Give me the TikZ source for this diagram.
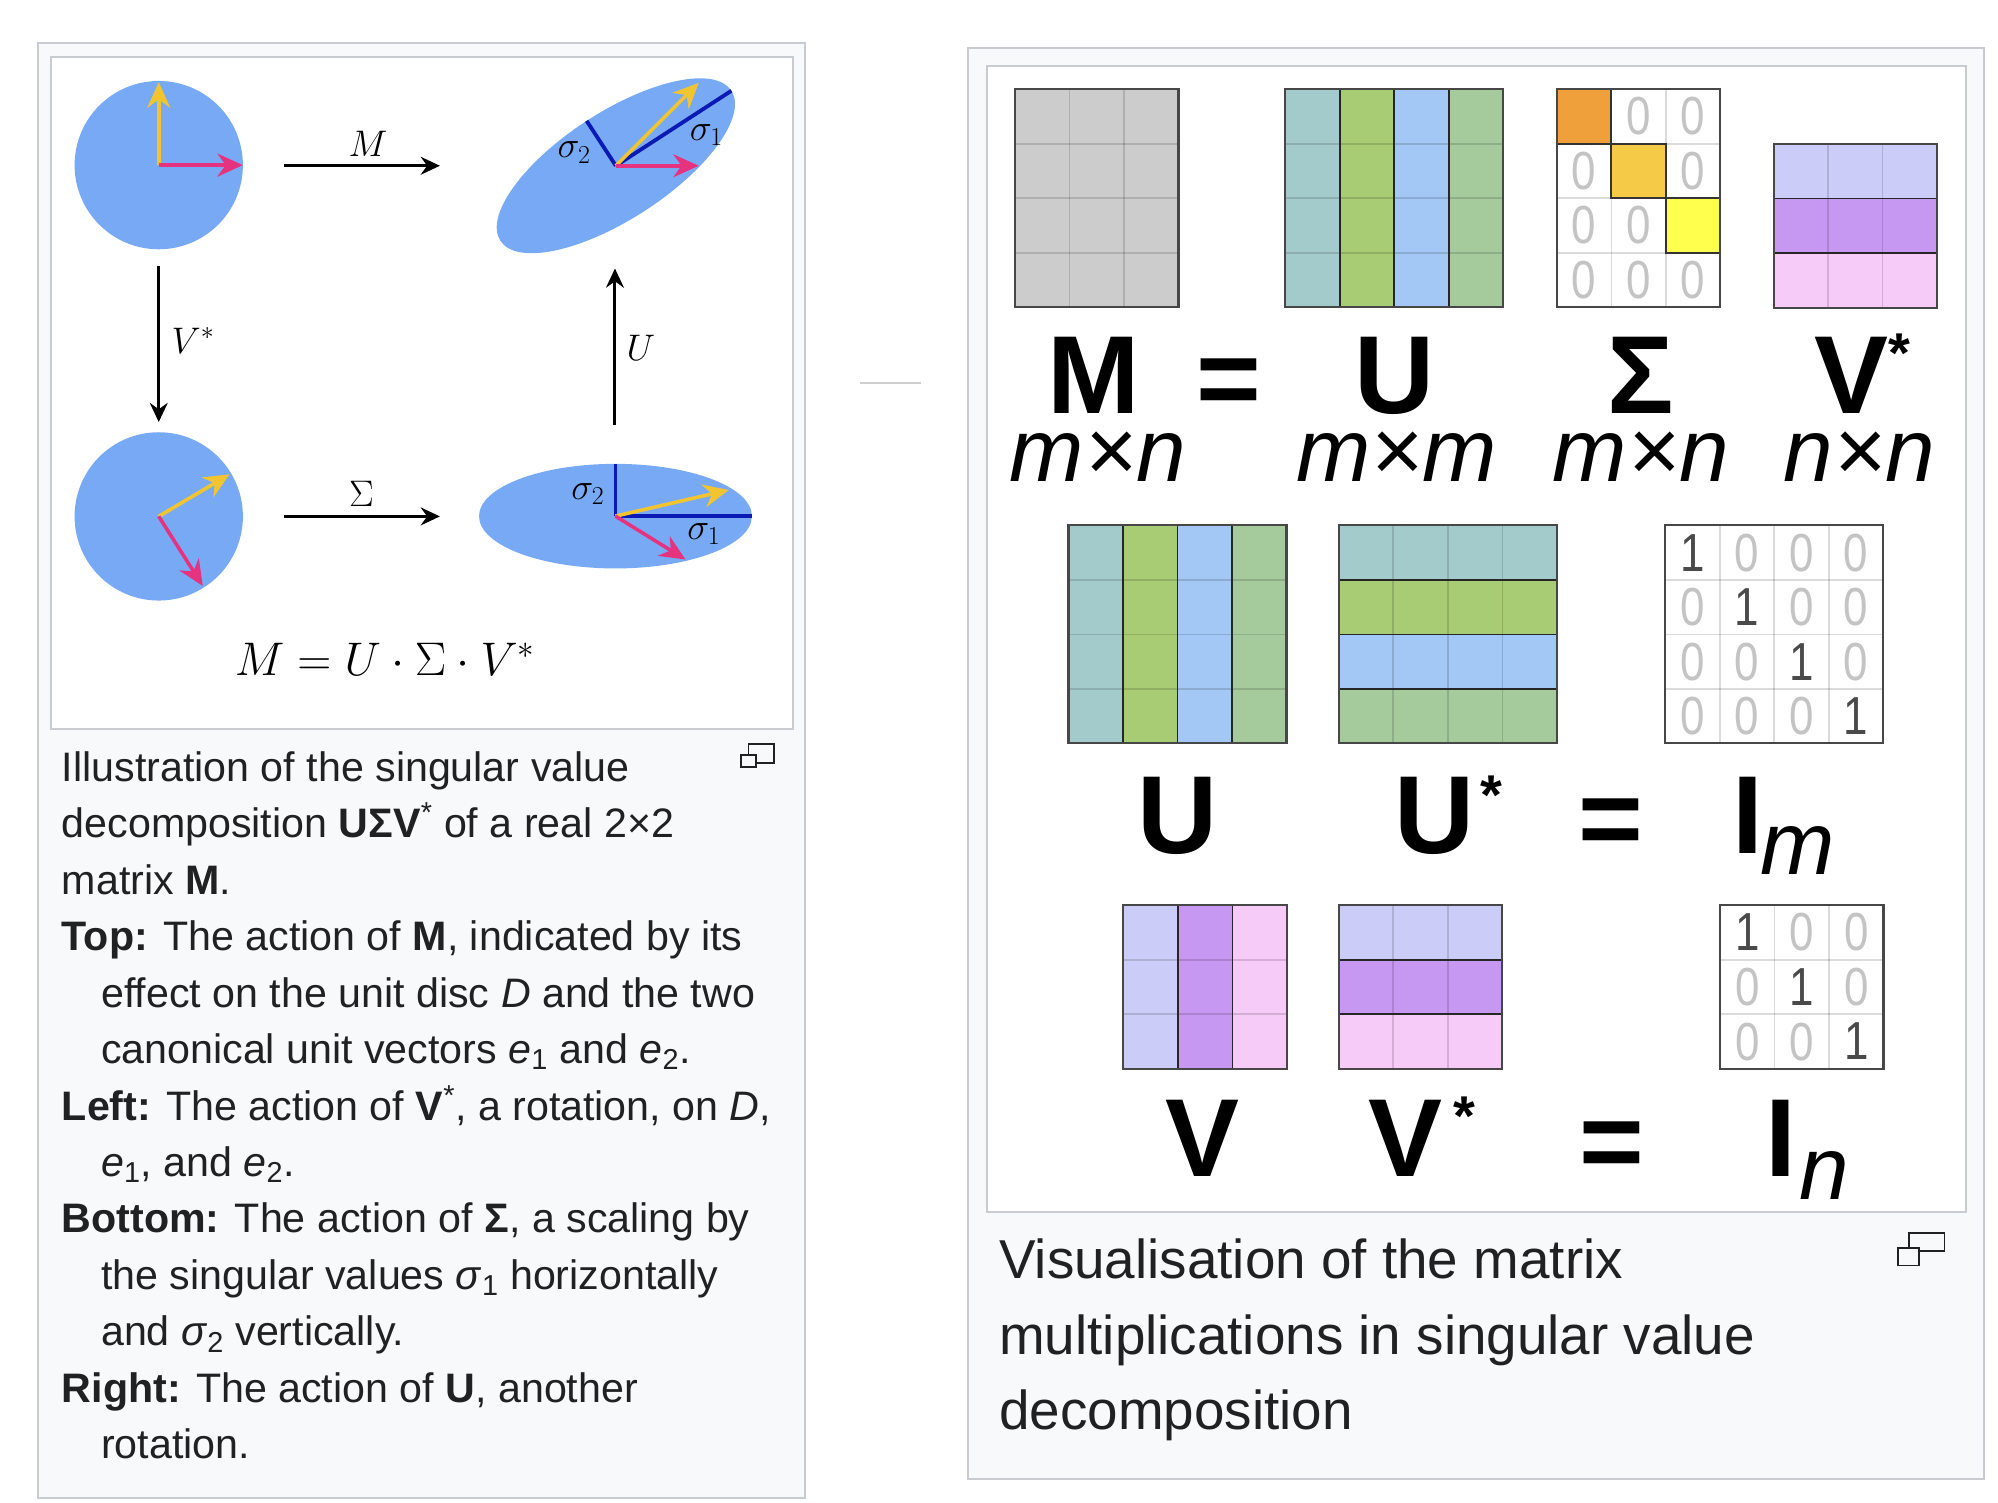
\RequirePackage{fix-cm}
\documentclass[tikz,border=0pt]{standalone}
\usepackage{graphicx}
\usepackage[no-math]{fontspec}
\setmainfont{Liberation Sans}
\usetikzlibrary{arrows.meta,shapes.geometric}

\definecolor{panelgray}{HTML}{C8CCD1}
\definecolor{capbg}{HTML}{F8F9FA}
\definecolor{captext}{HTML}{202122}
\definecolor{discblue}{HTML}{78A9F5}
\definecolor{vecyellow}{HTML}{F2C530}
\definecolor{vecpink}{HTML}{E6337F}
\definecolor{sigblue}{HTML}{0B1AB5}
\definecolor{mgray}{HTML}{CCCCCC}
\definecolor{cteal}{HTML}{A4CBCB}
\definecolor{cgreen}{HTML}{A8CC74}
\definecolor{cblue}{HTML}{A3C8F6}
\definecolor{csage}{HTML}{A5CB9D}
\definecolor{clav}{HTML}{CCCCF8}
\definecolor{cpurp}{HTML}{C698F2}
\definecolor{cpink}{HTML}{F7CBF8}
\definecolor{corange}{HTML}{F0A03A}
\definecolor{cgold}{HTML}{F5CA46}
\definecolor{cyel}{HTML}{FFFF4D}
\definecolor{zerogray}{HTML}{C4C4C4}
\definecolor{onegray}{HTML}{4A4A4A}

\newcommand{\cs}{42.75}
\newcommand{\narrowdigit}[1]{\scalebox{0.82}[1]{#1}}
\newcommand{\svdfaint}[4]{%
  \foreach \k in {1,...,#3}{\draw[faintline] ({#1+\k*\cs},#2) -- ++(0,{#4*\cs});}%
  \foreach \k in {1,...,#4}{\draw[faintline] (#1,{#2+\k*\cs}) -- ++({#3*\cs},0);}%
}
\newcommand{\svdvsep}[4]{%
  \foreach \k in {1,...,#3}{\draw[sepline] ({#1+\k*\cs},#2) -- ++(0,{#4*\cs});}%
}
\newcommand{\svdhsep}[4]{%
  \foreach \k in {1,...,#4}{\draw[sepline] (#1,{#2+\k*\cs}) -- ++({#3*\cs},0);}%
}
\newcommand{\svdbox}[4]{\draw[mborder] (#1,#2) rectangle ++({#3*\cs},{#4*\cs});}
\newcommand{\svdcolfill}[4]{%
  \foreach \c [count=\i from 0] in {#4}{\fill[\c] ({#1+\i*\cs},#2) rectangle ++(\cs,{#3*\cs});}%
}
\newcommand{\svdrowfill}[4]{%
  \foreach \c [count=\i from 0] in {#4}{\fill[\c] (#1,{#2+\i*\cs}) rectangle ++({#3*\cs},\cs);}%
}
\newcommand{\svdident}[4]{% x y n name
  \foreach \r in {1,...,#3}{\foreach \q in {1,...,#3}{%
    \ifnum\r=\q\relax
      \node[onedigit] (#4-\r-\q) at ({#1+(\q-0.5)*\cs},{#2+(\r-0.5)*\cs}) {\narrowdigit{1}};
    \else
      \node[zerodigit] (#4-\r-\q) at ({#1+(\q-0.5)*\cs},{#2+(\r-0.5)*\cs}) {\narrowdigit{0}};
    \fi}}%
}

\begin{document}
\begin{tikzpicture}[x=1pt,y=-1pt,
  panel/.style={draw=panelgray,line width=1.5pt},
  disc/.style={circle,fill=discblue,inner sep=0pt,minimum size=132pt},
  ell/.style={ellipse,fill=discblue,inner sep=0pt},
  vecy/.style={draw=vecyellow,line width=2.8pt,-{Stealth[length=20pt,width=18pt,inset=6.5pt]}},
  vecp/.style={draw=vecpink,line width=2.8pt,-{Stealth[length=20pt,width=18pt,inset=6.5pt]}},
  sigline/.style={draw=sigblue,line width=3pt},
  maparrow/.style={draw=black,line width=2.3pt,-{Stealth[length=15pt,width=14pt,inset=5pt]}},
  mlab/.style={inner sep=0pt,font=\fontsize{29}{32}\selectfont},
  formula/.style={inner sep=0pt,font=\fontsize{37}{40}\selectfont},
  capline/.style={anchor=base west,inner sep=0pt,text=captext,font=\fontsize{32.3}{40}\selectfont},
  rcap/.style={anchor=base west,inner sep=0pt,text=captext,font=\fontsize{43}{50}\selectfont},
  icon/.style={draw=captext,line width=1.4pt},
  faintline/.style={draw=black,opacity=0.14,line width=1.3pt},
  sepline/.style={draw=black!85,line width=1.3pt},
  mborder/.style={draw=black!72,line width=1.7pt},
  diagbox/.style={draw=black!80,line width=1.5pt},
  zerodigit/.style={inner sep=0pt,text=zerogray,font=\fontsize{42}{42}\selectfont},
  onedigit/.style={inner sep=0pt,text=onegray,font=\fontsize{42}{42}\selectfont},
  biglab/.style={anchor=base,inner sep=0pt,text height=62pt,text depth=0pt,font=\fontsize{87}{90}\selectfont\bfseries},
  eqlab/.style={inner sep=0pt,font=\fontsize{87}{90}\selectfont\bfseries},
  starlab/.style={anchor=north,inner sep=0pt,font=\fontsize{44}{44}\selectfont\bfseries},
  dimlab/.style={anchor=base,inner sep=0pt,text height=36pt,text depth=0pt,font=\fontsize{70}{72}\selectfont\itshape}
]
\useasboundingbox (0,0) rectangle (1567,1178);
\fill[white] (0,0) rectangle (1567,1178);

% ================= left panel =================
\draw[panel,fill=capbg] (29.6,34) rectangle (631.4,1175);
\draw[panel,fill=white] (40,45) rectangle (621.7,571.5);

\node[disc] (d1) at (124.5,129.5) {};
\node[disc] (d2) at (124.5,405) {};
\node[ell,minimum width=216pt,minimum height=84pt,rotate=33] (e1) at (483,130) {};
\node[ell,minimum width=214pt,minimum height=82pt] (e2) at (482.7,404.8) {};

% coordinates of vector tips
\coordinate (d1y) at (124.5,64.5);
\coordinate (d1p) at (190.5,129.5);
\coordinate (e1s1) at (573.6,71.2);
\coordinate (e1s2) at (460.1,94.8);
\coordinate (e1y) at (548,65);
\coordinate (e1p) at (548,130);
\coordinate (d2y) at (180,372);
\coordinate (d2p) at (159,459.5);
\coordinate (e2s2) at (482.7,364);
\coordinate (e2s1) at (589.7,404.8);
\coordinate (e2y) at (571.6,384.3);
\coordinate (e2p) at (537.6,438.8);

\draw[vecy] (d1.center) -- (d1y);
\draw[vecp] (d1.center) -- (d1p);

\draw[sigline] (e1.center) -- (e1s1);
\draw[sigline] (e1.center) -- (e1s2);
\draw[vecy] (e1.center) -- (e1y);
\draw[vecp] (e1.center) -- (e1p);

\draw[vecy] (d2.center) -- (d2y);
\draw[vecp] (d2.center) -- (d2p);

\draw[sigline] (e2.center) -- (e2s2);
\draw[sigline] (e2.center) -- (e2s1);
\draw[vecy] (e2.center) -- (e2y);
\draw[vecp] (e2.center) -- (e2p);

% map arrows
\coordinate (mA) at (223,130);
\coordinate (mB) at (345,130);
\coordinate (vA) at (124.5,209);
\coordinate (vB) at (124.5,331);
\coordinate (uA) at (482.3,333);
\coordinate (uB) at (482.3,210.6);
\coordinate (sA) at (223,405);
\coordinate (sB) at (345,405);
\draw[maparrow] (mA) -- (mB);
\draw[maparrow] (vA) -- (vB);
\draw[maparrow] (uA) -- (uB);
\draw[maparrow] (sA) -- (sB);

\node[mlab] (lM) at (288.7,112.8) {$M$};
\node[mlab] (lV) at (151.4,267) {$V^*$};
\node[mlab] (lU) at (502.7,272.6) {$U$};
\node[mlab] (lS) at (283.4,387.3) {$\Sigma$};
\node[mlab] (s2a) at (450.3,119.6) {$\sigma_2$};
\node[mlab] (s1a) at (554,106) {$\sigma_1$};
\node[mlab] (s2b) at (461,387.3) {$\sigma_2$};
\node[mlab] (s1b) at (552,419) {$\sigma_1$};
\node[formula] (form) at (301.8,517) {$M = U\cdot\Sigma\cdot V^*$};

% caption left
\node[capline] (c1) at (48.3,612.8) {Illustration of the singular value};
\node[capline] (c2) at (48.3,657.1) {decomposition \textbf{UΣV}\textsuperscript{*} of a real 2×2};
\node[capline] (c3) at (48.3,701.3) {matrix \textbf{M}.};
\node[capline] (c4) at (48.3,745.6) {\textbf{Top:} The action of \textbf{M}, indicated by its};
\node[capline] (c5) at (79.1,789.9) {effect on the unit disc \textit{D} and the two};
\node[capline] (c6) at (79.1,834.2) {canonical unit vectors \textit{e}\textsubscript{1} and \textit{e}\textsubscript{2}.};
\node[capline] (c7) at (48.3,878.4) {\textbf{Left:} The action of \textbf{V}\textsuperscript{*}, a rotation, on \textit{D},};
\node[capline] (c8) at (79.1,922.7) {\textit{e}\textsubscript{1}, and \textit{e}\textsubscript{2}.};
\node[capline] (c9) at (48.3,967.0) {\textbf{Bottom:} The action of \textbf{Σ}, a scaling by};
\node[capline] (c10) at (79.1,1011.2) {the singular values \textit{σ}\textsubscript{1} horizontally};
\node[capline] (c11) at (79.1,1055.5) {and \textit{σ}\textsubscript{2} vertically.};
\node[capline] (c12) at (48.3,1099.8) {\textbf{Right:} The action of \textbf{U}, another};
\node[capline] (c13) at (79.1,1144.1) {rotation.};

\draw[icon] (587,583.6) rectangle (607.3,598.7);
\draw[icon,fill=capbg] (581.2,592.2) rectangle (592.7,601.8);

% faint separator
\draw[draw=black!19,line width=1.3pt] (674.5,300.2) -- (722,300.2);

% ================= right panel =================
\draw[panel,fill=capbg] (759.4,37.7) rectangle (1555.7,1159.7);
\draw[panel,fill=white] (774,51.5) rectangle (1542,950.2);

% M (row 1)
\fill[mgray] (796,70) rectangle ++({3*\cs},{4*\cs});
\svdfaint{796}{70}{3}{4}
\svdbox{796}{70}{3}{4}
% U (row 1)
\svdcolfill{1008}{70}{4}{cteal,cgreen,cblue,csage}
\svdfaint{1008}{70}{4}{4}
\svdvsep{1008}{70}{4}{4}
\svdbox{1008}{70}{4}{4}
% Sigma
\fill[white] (1221,70) rectangle ++({3*\cs},{4*\cs});
\fill[corange] (1221,70) rectangle ++(\cs,\cs);
\fill[cgold] ({1221+\cs},{70+\cs}) rectangle ++(\cs,\cs);
\fill[cyel] ({1221+2*\cs},{70+2*\cs}) rectangle ++(\cs,\cs);
\svdfaint{1221}{70}{3}{4}
\foreach \r/\q in {1/2,1/3,2/1,2/3,3/1,3/2,4/1,4/2,4/3}{%
  \node[zerodigit] (sz-\r-\q) at ({1221+(\q-0.5)*\cs},{70+(\r-0.5)*\cs}) {\narrowdigit{0}};}
\draw[diagbox] (1221,70) rectangle ++(\cs,\cs);
\draw[diagbox] ({1221+\cs},{70+\cs}) rectangle ++(\cs,\cs);
\draw[diagbox] ({1221+2*\cs},{70+2*\cs}) rectangle ++(\cs,\cs);
\svdbox{1221}{70}{3}{4}
% V* (row 1)
\svdrowfill{1391}{113}{3}{clav,cpurp,cpink}
\svdfaint{1391}{113}{3}{3}
\svdhsep{1391}{113}{3}{3}
\svdbox{1391}{113}{3}{3}

\node[biglab] (LM) at (857.6,324) {M};
\node[eqlab] (Leq1) at (964,304) {=};
\node[biglab] (LU) at (1094,324) {U};
\node[biglab] (LS) at (1286.7,324) {Σ};
\node[biglab] (LV) at (1452,324) {V};
\node[starlab] (LVs) at (1490,261.6) {*};
\node[dimlab] (dM) at (861,378) {m×n};
\node[dimlab] (dU) at (1095.4,378) {m×m};
\node[dimlab] (dS) at (1286.8,378) {m×n};
\node[dimlab] (dV) at (1458.5,378) {n×n};

% row 2
\svdcolfill{838}{412}{4}{cteal,cgreen,cblue,csage}
\svdfaint{838}{412}{4}{4}
\svdvsep{838}{412}{4}{4}
\svdbox{838}{412}{4}{4}
\svdrowfill{1050}{412}{4}{cteal,cgreen,cblue,csage}
\svdfaint{1050}{412}{4}{4}
\svdhsep{1050}{412}{4}{4}
\svdbox{1050}{412}{4}{4}
\fill[white] (1306,412) rectangle ++({4*\cs},{4*\cs});
\svdfaint{1306}{412}{4}{4}
\svdident{1306}{412}{4}{im}
\svdbox{1306}{412}{4}{4}

\node[biglab] (L2U) at (923.3,669) {U};
\node[biglab] (L2Us) at (1124.8,669) {U};
\node[starlab] (L2st) at (1170,608) {*};
\node[eqlab] (Leq2) at (1263.5,649) {=};
\node[biglab] (L2I) at (1371,669) {I};
\node[dimlab] (L2m) at (1410,685.5) {m};

% row 3
\svdcolfill{881}{710}{3}{clav,cpurp,cpink}
\svdfaint{881}{710}{3}{3}
\svdvsep{881}{710}{3}{3}
\svdbox{881}{710}{3}{3}
\svdrowfill{1050}{710}{3}{clav,cpurp,cpink}
\svdfaint{1050}{710}{3}{3}
\svdhsep{1050}{710}{3}{3}
\svdbox{1050}{710}{3}{3}
\fill[white] (1349,710) rectangle ++({3*\cs},{3*\cs});
\svdfaint{1349}{710}{3}{3}
\svdident{1349}{710}{3}{in}
\svdbox{1349}{710}{3}{3}

\node[biglab] (L3V) at (943,923) {V};
\node[biglab] (L3Vs) at (1102,923) {V};
\node[starlab] (L3st) at (1148.5,860) {*};
\node[eqlab] (Leq3) at (1264,902.3) {=};
\node[biglab] (L3I) at (1397,923) {I};
\node[dimlab] (L3n) at (1431,940.5) {n};

% caption right
\node[rcap] (rc1) at (783.5,1003) {Visualisation of the matrix};
\node[rcap] (rc2) at (783.5,1062) {multiplications in singular value};
\node[rcap] (rc3) at (783.5,1121) {decomposition};

\draw[icon] (1497,967) rectangle (1525,981);
\draw[icon,fill=capbg] (1488.5,978.5) rectangle (1505,992.5);
\end{tikzpicture}
\end{document}
